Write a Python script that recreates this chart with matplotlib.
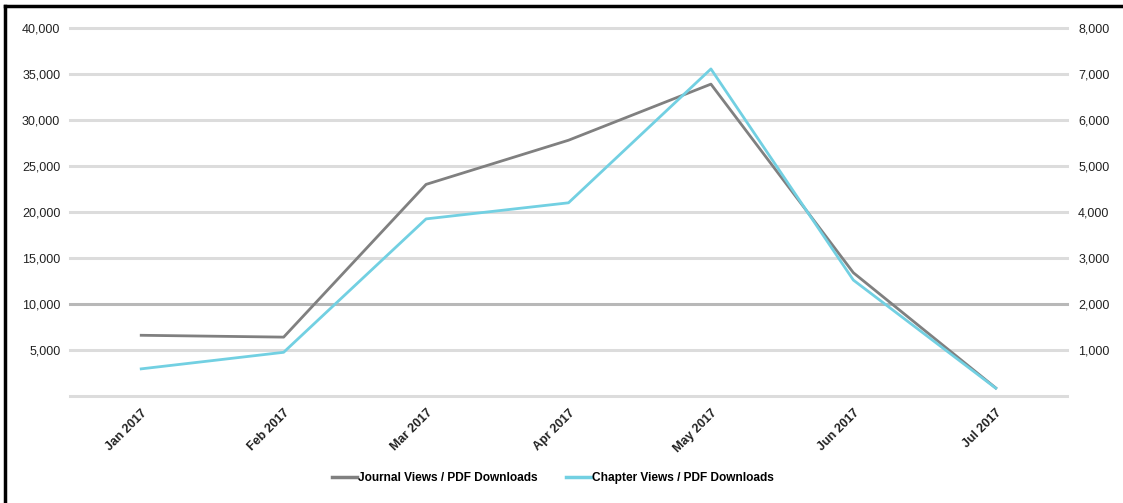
import numpy as np
import matplotlib.pyplot as plt
from matplotlib.lines import Line2D


#DATA

months = ['Jan 2017', 'Feb 2017', 'Mar 2017', 'Apr 2017', 'May 2017', 'Jun 2017', 'Jul 2017']

journal = [6600, 6400, 23000, 27800, 33900, 13400, 870]

chapter = [590, 950, 3850, 4200, 7110, 2520, 170]

left_ticks = [5000, 10000, 15000, 20000, 25000, 30000, 35000, 40000]

right_ticks = [1000, 2000, 3000, 4000, 5000, 6000, 7000, 8000]


plt.rcParams['font.family'] = ['Liberation Sans', 'DejaVu Sans']

grey = '#808080'
cyan = '#72d0e2'


#FIGURE

fig = plt.figure(figsize=(11.23, 5.03), dpi=100)

ax = fig.add_axes([70/1123, 107/503, 997/1123, 368/503])
ax2 = ax.twinx()

x = np.arange(len(months))


#Gridlines (drawn on the left axis)

for v in [0] + left_ticks:
    c = '#b8b8b8' if v == 10000 else '#dcdcdc'
    ax.axhline(v, color=c, lw=2.2, zorder=0, clip_on=False)


ax.plot(x, journal, color=grey, lw=2, zorder=3)
ax2.plot(x, chapter, color=cyan, lw=2, zorder=3)

ax.set_xlim(-0.5, len(months) - 0.5)
ax.set_ylim(0, 40000)
ax2.set_ylim(0, 8000)

ax.set_yticks(left_ticks)
ax.set_yticklabels(['{:,}'.format(v) for v in left_ticks])
ax2.set_yticks(right_ticks)
ax2.set_yticklabels(['{:,}'.format(v) for v in right_ticks])

ax.set_xticks(x)
ax.set_xticklabels(months, rotation=45, ha='right', rotation_mode='anchor',
                   fontsize=8, fontweight='bold', color='#222222')

for a in (ax, ax2):
    for s in a.spines.values():
        s.set_visible(False)
    a.tick_params(length=0, labelsize=9, colors='#222222')

ax.tick_params(axis='y', pad=7)
ax2.tick_params(axis='y', pad=8)
ax.tick_params(axis='x', pad=8)


#Legend

handles = [Line2D([], [], color=grey, lw=2.5),
           Line2D([], [], color=cyan, lw=2.5)]

fig.legend(handles, ['Journal Views / PDF Downloads', 'Chapter Views / PDF Downloads'],
           loc='center', bbox_to_anchor=(553/1123, 1 - 478/503), ncol=2,
           frameon=False, handlelength=2.1, handletextpad=0.1, columnspacing=2.4,
           prop={'size': 8.6, 'weight': 'bold'})


#Frame of the image (left and top only)

fig.add_artist(Line2D([5/1123, 5/1123], [0, 1 - 6/503], color='black', lw=2.5))
fig.add_artist(Line2D([5/1123, 1], [1 - 6/503, 1 - 6/503], color='black', lw=2.5))

plt.savefig('out.png', dpi=100)
